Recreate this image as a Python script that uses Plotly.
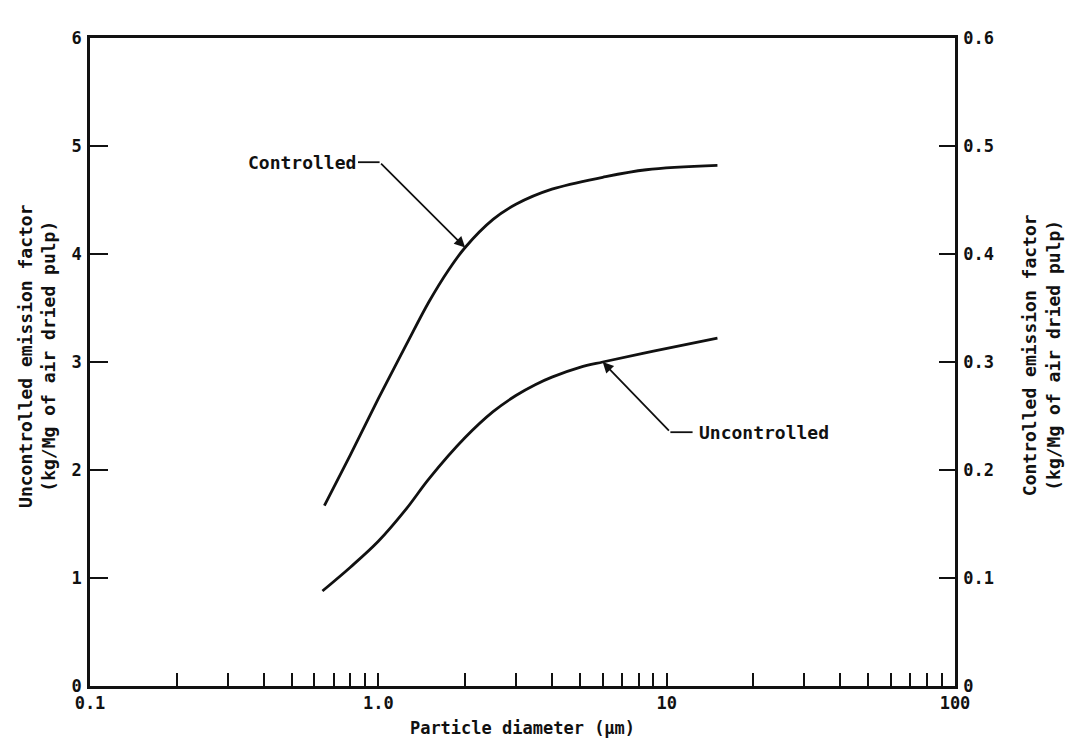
import math
import plotly.graph_objects as go

# Data
ctrl_x = [0.65, 0.8, 1.0, 1.25, 1.5, 1.75, 2.0, 2.5, 3.0, 4.0, 6.0, 8.5, 15.0]
ctrl_y = [0.167, 0.214, 0.266, 0.316, 0.356, 0.385, 0.406, 0.432, 0.446,
          0.460, 0.471, 0.478, 0.482]  # right axis

unc_x = [0.64, 0.8, 1.0, 1.25, 1.5, 2.0, 2.5, 3.0, 3.5, 4.0, 5.0, 6.0, 9.0, 15.0]
unc_y = [0.88, 1.10, 1.34, 1.64, 1.92, 2.30, 2.54, 2.69, 2.79, 2.86, 2.95, 3.00,
         3.10, 3.22]  # left axis

x_tickvals = [0.1, 0.2, 0.3, 0.4, 0.5, 0.6, 0.7, 0.8, 0.9, 1, 2, 3, 4, 5, 6, 7, 8, 9, 10,
              20, 30, 40, 50, 60, 70, 80, 90, 100]
x_label_map = {0.1: "0.1", 1: "1.0", 10: "10", 100: "100"}
x_ticktext = [x_label_map.get(v, "") for v in x_tickvals]

left_tickvals = [0, 1, 2, 3, 4, 5, 6]
left_ticktext = ["0", "1", "2", "3", "4", "5", "6"]
right_tickvals = [0, 0.1, 0.2, 0.3, 0.4, 0.5, 0.6]
right_ticktext = ["0", "0.1", "0.2", "0.3", "0.4", "0.5", "0.6"]

# Leader lines (data coordinates, left-axis units for y)
ctrl_leader_x = [0.85, 1.01, 2.0]
ctrl_leader_y = [4.85, 4.85, 4.06]
unc_leader_x = [12.3, 10.3, 6.0]
unc_leader_y = [2.35, 2.35, 3.0]
ctrl_label_x = 0.85
unc_label_x = 12.7

FONT = "DejaVu Sans Mono"
INK = "#111111"
lg = math.log10

fig = go.Figure()
fig.add_trace(go.Scatter(x=unc_x, y=unc_y, mode="lines",
                         line=dict(color=INK, width=2.8, shape="spline", smoothing=1.0),
                         showlegend=False, hoverinfo="skip"))
fig.add_trace(go.Scatter(x=ctrl_x, y=ctrl_y, mode="lines", yaxis="y2",
                         line=dict(color=INK, width=2.8, shape="spline", smoothing=1.0),
                         showlegend=False, hoverinfo="skip"))
# horizontal parts of the leader lines
fig.add_trace(go.Scatter(x=ctrl_leader_x[:2], y=ctrl_leader_y[:2], mode="lines",
                         line=dict(color=INK, width=1.8), showlegend=False, hoverinfo="skip"))
fig.add_trace(go.Scatter(x=unc_leader_x[:2], y=unc_leader_y[:2], mode="lines",
                         line=dict(color=INK, width=1.8), showlegend=False, hoverinfo="skip"))

# diagonal arrow parts (annotation x on a log axis is given in log10 units)
fig.add_annotation(x=lg(ctrl_leader_x[2]), y=ctrl_leader_y[2],
                   ax=lg(ctrl_leader_x[1]), ay=ctrl_leader_y[1],
                   xref="x", yref="y", axref="x", ayref="y", showarrow=True,
                   arrowhead=2, arrowsize=1.2, arrowwidth=1.8, arrowcolor=INK, text="")
fig.add_annotation(x=lg(unc_leader_x[2]), y=unc_leader_y[2],
                   ax=lg(unc_leader_x[1]), ay=unc_leader_y[1],
                   xref="x", yref="y", axref="x", ayref="y", showarrow=True,
                   arrowhead=2, arrowsize=1.2, arrowwidth=1.8, arrowcolor=INK, text="")
fig.add_annotation(x=lg(ctrl_label_x), y=ctrl_leader_y[0], xref="x", yref="y",
                   text="Controlled", showarrow=False,
                   xanchor="right", yanchor="middle",
                   font=dict(family=FONT, size=18, color=INK, weight="bold"))
fig.add_annotation(x=lg(unc_label_x), y=unc_leader_y[0], xref="x", yref="y",
                   text="Uncontrolled", showarrow=False,
                   xanchor="left", yanchor="middle",
                   font=dict(family=FONT, size=18, color=INK, weight="bold"))

# axis titles
fig.add_annotation(xref="paper", yref="paper", x=-0.062, y=0.51,
                   text="Uncontrolled emission factor<br>(kg/Mg of air dried pulp)",
                   textangle=-90, showarrow=False, xanchor="center", yanchor="middle",
                   font=dict(family=FONT, size=18, color=INK, weight="bold"))
fig.add_annotation(xref="paper", yref="paper", x=1.099, y=0.51,
                   text="Controlled emission factor<br>(kg/Mg of air dried pulp)",
                   textangle=-90, showarrow=False, xanchor="center", yanchor="middle",
                   font=dict(family=FONT, size=18, color=INK, weight="bold"))

fig.update_layout(
    width=1074, height=740,
    margin=dict(l=90, r=119, t=38, b=54),
    paper_bgcolor="white", plot_bgcolor="white",
    font=dict(family=FONT, size=17, color=INK),
    xaxis=dict(type="log", range=[-1, 2], tickvals=x_tickvals, ticktext=x_ticktext,
               ticks="inside", ticklen=13, tickwidth=1.6, tickcolor=INK,
               showline=True, linecolor=INK, linewidth=2.8, mirror=True,
               showgrid=False, zeroline=False, automargin=False,
               tickfont=dict(family=FONT, size=17, color=INK, weight="bold"),
               title=dict(text="Particle diameter (µm)", standoff=10,
                          font=dict(family=FONT, size=17, color=INK, weight="bold"))),
    yaxis=dict(range=[0, 6], tickvals=left_tickvals, ticktext=left_ticktext,
               ticks="inside", ticklen=18, tickwidth=2, tickcolor=INK,
               showline=True, linecolor=INK, linewidth=2.8, automargin=False,
               showgrid=False, zeroline=False, ticklabelstandoff=2,
               tickfont=dict(family=FONT, size=17, color=INK, weight="bold")),
    yaxis2=dict(range=[0, 0.6], tickvals=right_tickvals, ticktext=right_ticktext,
                overlaying="y", side="right", automargin=False,
                ticks="inside", ticklen=16, tickwidth=2, tickcolor=INK,
                showline=True, linecolor=INK, linewidth=2.8,
                showgrid=False, zeroline=False, ticklabelstandoff=2,
                tickfont=dict(family=FONT, size=17, color=INK, weight="bold")),
)

fig.write_html("out.html")
